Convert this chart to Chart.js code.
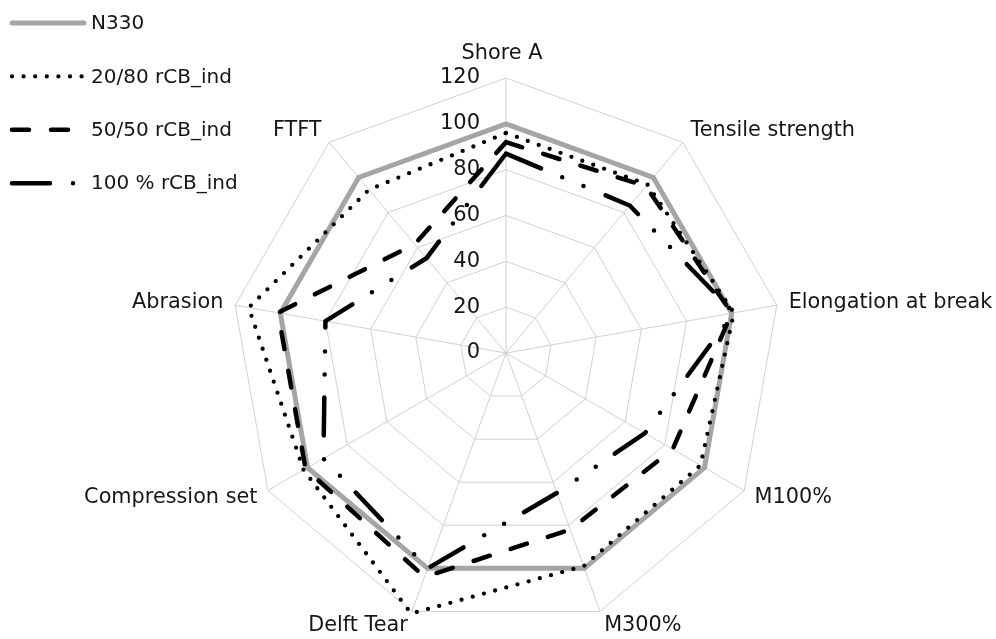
<!DOCTYPE html>
<html lang="en">
<head>
<meta charset="UTF-8">
<title>rCB_ind radar</title>
<script src="https://cdn.jsdelivr.net/npm/chart.js"></script>
<style>
  html, body { margin: 0; padding: 0; background: #fff; overflow: hidden; }
  #wrap { position: relative; width: 996px; height: 639px; }
</style>
</head>
<body>
<div id="wrap"><canvas id="radar"></canvas></div>
<script>
// properties around the radar, clockwise from the top
const properties = ['Shore A', 'Tensile strength', 'Elongation at break', 'M100%', 'M300%',
                    'Delft Tear', 'Compression set', 'Abrasion', 'FTFT'];
const tickValues = [0, 20, 40, 60, 80, 100, 120];

// values relative to N330 (= 100)
const n330     = [100, 100, 100, 100, 100, 100, 100, 100, 100];
const blend2080 = [96, 96, 101, 98, 99, 121, 102, 114, 93];
const blend5050 = [92, 95, 100, 84, 82, 104, 101, 101, 62];
const full100   = [87, 84, 101, 70, 65, 100, 92, 80, 54];

const FONT = "'DejaVu Sans', Verdana, sans-serif";
const TEXT = '#161616';

// ticks left of the vertical axis, labels Excel-style, legend top-left
const radarText = {
    id: 'radarText',
    beforeDatasetsDraw(chart) {
        const scale = chart.scales.r;
        const ctx = chart.ctx;
        ctx.save();
        ctx.fillStyle = TEXT;
        ctx.font = '21px ' + FONT;
        ctx.textAlign = 'right';
        ctx.textBaseline = 'middle';
        tickValues.forEach(v => {
            ctx.fillText(String(v), scale.xCenter - 26, scale.yCenter - scale.getDistanceFromCenterForValue(v));
        });

        ctx.font = '20.8px ' + FONT;
        properties.forEach((name, i) => {
            const angle = scale.getIndexAngle(i);
            const sin = Math.sin(angle), cos = Math.cos(angle);
            const p = scale.getPointPosition(i, scale.drawingArea + 12);
            if (Math.abs(sin) < 0.05) {
                ctx.textAlign = 'center';
                ctx.textBaseline = cos > 0 ? 'bottom' : 'top';
                ctx.fillText(name, p.x - 4, p.y + (cos > 0 ? -2 : 2));
            } else {
                ctx.textAlign = sin > 0 ? 'left' : 'right';
                ctx.textBaseline = 'middle';
                ctx.fillText(name, p.x, p.y - cos * 3);
            }
        });
        ctx.restore();
    },
    afterDraw(chart) {
        const ctx = chart.ctx;
        ctx.save();
        ctx.font = '20px ' + FONT;
        ctx.textAlign = 'left';
        ctx.textBaseline = 'middle';
        chart.data.datasets.forEach((ds, i) => {
            const y = 23 + i * 53.4;
            ctx.strokeStyle = ds.borderColor;
            ctx.lineWidth = ds.borderWidth;
            ctx.lineCap = 'round';
            ctx.setLineDash(ds.borderDash || []);
            ctx.beginPath();
            ctx.moveTo(12, y);
            ctx.lineTo(84, y);
            ctx.stroke();
            ctx.fillStyle = TEXT;
            ctx.fillText(ds.label, 91, y + 1);
        });
        ctx.restore();
    }
};

new Chart(document.getElementById('radar'), {
    type: 'radar',
    data: {
        labels: properties,
        datasets: [
            { label: 'N330', data: n330, borderColor: '#a5a5a5', borderWidth: 5, order: 1 },
            { label: '20/80 rCB_ind', data: blend2080, borderColor: '#000', borderWidth: 4.3,
              borderDash: [0, 11.6], borderCapStyle: 'round', order: 0 },
            { label: '50/50 rCB_ind', data: blend5050, borderColor: '#000', borderWidth: 4.5,
              borderDash: [17, 22], borderCapStyle: 'round', order: 0 },
            { label: '100 % rCB_ind', data: full100, borderColor: '#000', borderWidth: 4.5,
              borderDash: [38, 23, 0, 23, 0, 24], borderCapStyle: 'round', order: 0 }
        ]
    },
    options: {
        responsive: true,
        maintainAspectRatio: false,
        animation: false,
        layout: { padding: { top: 78, bottom: 11, left: 16, right: 0 } },
        plugins: { legend: { display: false }, tooltip: { enabled: false } },
        elements: {
            line: { tension: 0, fill: false },
            point: { radius: 0, hoverRadius: 0 }
        },
        scales: {
            r: {
                min: 0,
                max: 120,
                ticks: { stepSize: 20, display: false },
                grid: { color: '#d0d0d0', lineWidth: 1 },
                angleLines: { color: '#d0d0d0', lineWidth: 1 },
                pointLabels: { display: false }
            }
        }
    },
    plugins: [radarText]
});
</script>
</body>
</html>
